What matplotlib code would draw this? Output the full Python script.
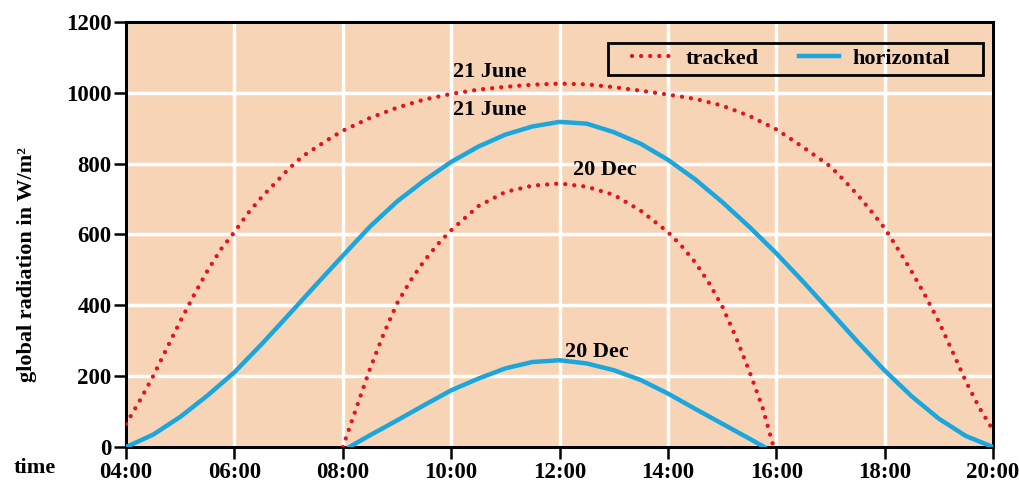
import numpy as np
import matplotlib
matplotlib.use("Agg")
import matplotlib.pyplot as plt
from matplotlib.patches import Rectangle

plt.rcParams["font.family"] = ["Liberation Serif", "DejaVu Serif"]
plt.rcParams["font.weight"] = "bold"

# 21 June, tracked surface
june_t_hours = [4.0, 4.25, 4.5, 4.75, 5.0, 5.25, 5.5, 5.75, 6.0, 6.25, 6.5, 6.75, 7.0, 7.25, 7.5, 7.75,
                8.0, 8.5, 9.0, 9.5, 10.0, 10.5, 11.0, 11.5, 12.0, 12.5, 13.0, 13.5, 14.0, 14.5, 15.0,
                15.5, 16.0, 16.5, 17.0, 17.25, 17.5, 17.75, 18.0, 18.25, 18.5, 18.75, 19.0, 19.25,
                19.5, 19.75, 20.0]
june_tracked = [65, 130, 200, 278, 355, 428, 497, 558, 607, 660, 705, 745, 785, 820, 845, 870,
                893, 929, 958, 981, 997, 1009, 1017, 1023, 1026, 1024, 1016, 1006, 995, 983, 964,
                935, 897, 846, 792, 753, 712, 666, 618, 558, 495, 427, 354, 270,
                185, 110, 48]

# 21 June, horizontal surface
june_h_hours = [4.0, 4.5, 5.0, 5.5, 6.0, 6.5, 7.0, 7.5, 8.0, 8.5, 9.0, 9.5, 10.0, 10.5, 11.0, 11.5, 12.0,
                12.5, 13.0, 13.5, 14.0, 14.5, 15.0, 15.5, 16.0, 16.5, 17.0, 17.5, 18.0, 18.5, 19.0, 19.5, 20.0]
june_horizontal = [0, 35, 85, 145, 211, 290, 373, 457, 540, 622, 693, 752, 805, 848, 882, 905, 918,
                   913, 889, 856, 811, 756, 692, 622, 547, 466, 382, 297, 216, 143, 80, 31, 0]

# 20 Dec, tracked surface
dec_t_hours = [8.0, 8.25, 8.5, 8.75, 9.0, 9.25, 9.5, 9.75, 10.0, 10.5, 11.0, 11.5, 12.0,
               12.5, 13.0, 13.5, 14.0, 14.25, 14.5, 14.75, 15.0, 15.25, 15.5, 15.75, 15.95]
dec_tracked = [0, 110, 220, 318, 405, 470, 525, 572, 612, 680, 720, 738, 744,
               735, 712, 667, 607, 568, 522, 465, 398, 312, 215, 110, 0]

# 20 Dec, horizontal surface
dec_h_hours = [8.12, 8.5, 9.0, 9.5, 10.0, 10.5, 11.0, 11.5, 12.0,
               12.5, 13.0, 13.5, 14.0, 14.5, 15.0, 15.5, 15.78]
dec_horizontal = [0, 33, 75, 118, 160, 193, 222, 240, 245,
                  236, 217, 189, 151, 108, 66, 24, 0]

x_ticks = [4, 6, 8, 10, 12, 14, 16, 18, 20]
x_labels = ["04:00", "06:00", "08:00", "10:00", "12:00", "14:00", "16:00", "18:00", "20:00"]
y_ticks = [0, 200, 400, 600, 800, 1000, 1200]

red = "#E3141B"
blue = "#1BA6DD"

fig = plt.figure(figsize=(10.19, 4.82), dpi=100)
ax = fig.add_axes([0.1237, 0.0726, 0.8508, 0.8818])
ax.set_facecolor("#F8D4B6")

dots = (0, (0.01, 2.1))
ax.plot(june_t_hours, june_tracked, color=red, lw=3.1, linestyle=dots,
        dash_capstyle="round", label="tracked", zorder=3)
ax.plot(june_h_hours, june_horizontal, color=blue, lw=3.2, solid_joinstyle="round",
        label="horizontal", zorder=3)
ax.plot(dec_t_hours, dec_tracked, color=red, lw=3.1, linestyle=dots,
        dash_capstyle="round", zorder=3)
ax.plot(dec_h_hours, dec_horizontal, color=blue, lw=3.2, solid_joinstyle="round", zorder=3)

ax.text(10.72, 1059, "21 June", ha="center", va="center", fontsize=16, fontweight="bold")
ax.text(10.72, 952, "21 June", ha="center", va="center", fontsize=16, fontweight="bold")
ax.text(12.84, 782, "20 Dec", ha="center", va="center", fontsize=16, fontweight="bold")
ax.text(12.69, 268, "20 Dec", ha="center", va="center", fontsize=16, fontweight="bold")

ax.set_xlim(4, 20)
ax.set_ylim(0, 1200)
ax.set_xticks(x_ticks)
ax.set_xticklabels(x_labels)
ax.set_yticks(y_ticks)
ax.grid(True, color="white", lw=2.5, zorder=1)
ax.set_axisbelow(True)
for s in ax.spines.values():
    s.set_linewidth(2.2)
    s.set_color("black")
ax.tick_params(axis="both", direction="out", length=8.5, width=1.8, labelsize=16.5, pad=2)
for lab in ax.get_xticklabels() + ax.get_yticklabels():
    lab.set_fontweight("bold")

ax.set_ylabel("global radiation in W/m\u00b2", fontsize=16, fontweight="bold")
ax.yaxis.set_label_coords(-0.103, 0.43)
fig.text(0.034, 0.029, "time", ha="center", va="center", fontsize=16, fontweight="bold")

# legend box drawn separately (wider padding than matplotlib's frame)
ax.add_patch(Rectangle((0.556, 0.875), 0.432, 0.076, transform=ax.transAxes,
                       facecolor="none", edgecolor="black", lw=2, zorder=5))
leg = ax.legend(loc="center left", ncol=2, bbox_to_anchor=(0.584, 0.913), borderaxespad=0,
                frameon=False, fontsize=16, handlelength=1.8, columnspacing=1.8,
                borderpad=0, handletextpad=0.6)
for t in leg.get_texts():
    t.set_fontweight("bold")

fig.savefig("out.png", dpi=100)
